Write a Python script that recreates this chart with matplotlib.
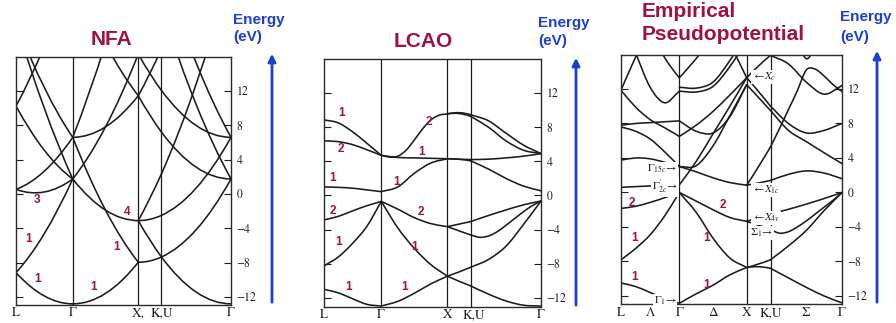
import matplotlib
matplotlib.use("Agg")
import matplotlib.pyplot as plt
from matplotlib.path import Path
from matplotlib.patches import PathPatch, FancyArrowPatch

plt.rcParams["font.family"] = ["Liberation Sans", "DejaVu Sans"]
plt.rcParams["mathtext.fontset"] = "stix"

W, H = 896, 323
INK = "#1c1c1c"
RED = "#a0123e"
BLUE = "#1c3fd2"
SERIF = "STIXGeneral"

# high-symmetry points along L - Γ - X - K,U - Γ  (units of 2π/a)
kpts = [0.0, 0.866, 1.866, 2.220, 3.281]
eticks = [-12, -8, -4, 0, 4, 8, 12]

# ---------------- NFA : E (eV) at start / middle / end of each segment
nfa_LG = [[-9.16, -11.89, -12.8], [-9.16, -4.62, 1.75], [0.54, 0.23, 1.75],
          [0.54, 2.66, 6.6], [10.24, 5.08, 1.75], [10.24, 17.21, 26.0],
          [19.94, 9.93, 1.75], [19.94, 12.36, 6.6]]
nfa_GX = [[-12.8, -11.59, -7.95], [6.6, -1.89, -7.95], [1.75, -1.89, -3.1],
          [1.75, 7.81, 16.3], [6.6, 7.81, 11.45], [6.6, 17.51, 30.85],
          [26.0, 17.51, 11.45]]
nfa_XK = [[-7.95, -7.8, -7.34], [-3.1, -5.37, -7.34], [-3.1, -0.52, 2.36],
          [-3.1, -2.95, -2.49], [11.45, 9.18, 7.21], [11.45, 14.03, 16.9],
          [16.3, 14.03, 12.06]]
nfa_KG = [[-7.34, -11.44, -12.8], [-7.34, -4.16, 1.75], [-2.49, 0.69, 6.6],
          [7.21, 3.11, 1.75], [21.76, 10.39, 1.75], [2.36, 12.81, 26.0],
          [26.6, 15.24, 6.6], [12.06, 7.96, 6.6]]

# ---------------- LCAO : E (eV) at evenly spaced points of each segment
lcao_LG = [[8.85, 8.5, 7.45, 6.1, 4.7], [6.4, 6.3, 5.95, 5.35, 4.7],
           [1.0, 0.95, 0.85, 0.65, 0.45], [-2.85, -2.45, -1.8, -1.2, -0.7],
           [-8.25, -7.2, -5.6, -3.6, -0.7], [-11.0, -11.4, -12.1, -12.75, -12.95]]
lcao_GX = [[4.7, 4.5, 4.6, 5.3, 6.5, 7.8, 8.85, 9.4, 9.55],
           [4.7, 4.45, 4.4, 4.35, 4.3],
           [0.45, 1.0, 2.6, 3.8, 4.3], [-0.7, -1.6, -2.6, -3.3, -3.65],
           [-0.7, -3.8, -6.2, -8.1, -9.45], [-12.95, -12.4, -11.45, -10.35, -9.45]]
lcao_XK = [[9.55, 9.7, 9.45], [9.55, 9.6, 9.25], [4.3, 4.25, 4.2], [4.3, 4.25, 4.05],
           [-3.65, -3.35, -3.05], [-3.65, -4.15, -4.63], [-9.45, -8.95, -8.4],
           [-9.45, -10.05, -10.6]]
lcao_KG = [[9.45, 8.75, 7.3, 5.9, 4.9], [9.25, 8.0, 6.4, 5.3, 4.9],
           [4.2, 4.25, 4.4, 4.6, 4.9], [4.05, 3.1, 2.0, 1.1, 0.55],
           [-3.05, -2.35, -1.7, -1.1, -0.65],
           [-4.63, -4.9, -4.75, -4.25, -3.5, -2.7, -1.9, -1.2, -0.65],
           [-8.4, -7.5, -5.95, -3.4, -0.65], [-10.6, -11.55, -12.35, -12.85, -12.95]]

# ---------------- Empirical pseudopotential : (from, to, E values) per segment
epm_LG = [(0, 1, [-10.5, -10.9, -11.6, -12.3, -12.85]),
          (0, 1, [-7.8, -6.5, -4.9, -2.7, 0.0]),
          (0, 1, [-1.85, -1.6, -1.15, -0.6, 0.0]),
          (0, 1, [0.6, 0.68, 0.76, 0.84, 0.88]),
          (0, 1, [3.75, 4.0, 3.9, 3.5, 3.0]),
          (0, 1, [7.6, 7.1, 6.2, 4.7, 3.0]),
          (0, 1, [7.8, 8.0, 8.1, 8.2, 8.3]),
          (0, 1, [11.85, 9.9, 8.45, 7.5, 6.5]),
          (0, 1, [20.5, 16.2, 12.2, 10.4, 11.75]),
          (0.5, 1, [18.6, 15.6, 13.3]),
          (0, 0.3, [11.85, 14.2, 16.4])]
epm_GX = [(0, 1, [-12.85, -11.75, -10.75, -9.55, -8.7]),
          (0, 1, [0.0, -2.3, -5.3, -7.6, -8.7]),
          (0, 1, [0.0, -1.0, -2.0, -2.9, -3.35]),
          (0, 1, [3.0, 2.4, 1.7, 1.15, 0.85]),
          (0, 1, [0.88, 3.6, 6.8, 10.0, 13.3]),
          (0, 1, [3.0, 3.1, 5.4, 8.9, 12.5]),
          (0, 1, [8.3, 7.1, 6.9, 8.8, 12.5]),
          (0, 1, [6.5, 7.8, 9.4, 11.3, 13.3]),
          (0, 0.3, [13.3, 14.6, 16.0]),
          (0, 1, [12.2, 12.1, 12.8, 15.3, 18.5]),
          (0, 1, [11.75, 11.65, 12.3, 14.6, 17.6]),
          (0.75, 1, [17.2, 15.3, 13.3])]
epm_XK = [(0, 1, [-8.7, -8.6, -8.8]), (0, 1, [-8.7, -8.3, -7.8]),
          (0, 1, [-3.35, -3.8, -4.3]), (0, 1, [-3.35, -2.9, -2.5]),
          (0, 1, [0.85, 1.1, 1.4]), (0, 1, [0.85, 3.0, 5.3]),
          (0, 1, [12.5, 11.0, 9.5]), (0, 1, [13.3, 11.7, 10.0]),
          (0, 1, [13.3, 14.7, 15.9])]
epm_KG = [(0, 1, [-8.8, -9.9, -11.0, -12.0, -12.8]),
          (0, 1, [-7.8, -6.2, -4.4, -2.1, 0.0]),
          (0, 1, [-4.3, -4.72, -4.55, -4.0, -3.3, -2.5, -1.7, -0.9, 0.0]),
          (0, 1, [-2.5, -1.95, -1.35, -0.7, 0.0]),
          (0, 1, [1.4, 2.1, 2.5, 2.25, 1.6]),
          (0, 1, [5.3, 7.4, 9.6, 11.8, 14.2, 14.3, 13.5, 12.5, 11.7]),
          (0, 1, [9.5, 7.2, 5.9, 4.6, 3.35]),
          (0, 1, [10.0, 8.0, 6.9, 7.2, 8.0]),
          (0, 1, [15.9, 14.9, 12.8, 11.4, 12.4]),
          (0.44, 0.58, [16.3, 15.5, 16.3])]

# red band-degeneracy labels (text, axes-fraction position)
nfa_nums = [("3", .099, .423), ("1", .060, .265), ("1", .099, .104),
            ("4", .518, .376), ("1", .468, .233), ("1", .360, .071)]
lcao_nums = [("1", .082, .783), ("2", .077, .637), ("1", .038, .519), ("2", .043, .388),
             ("1", .066, .261), ("1", .115, .079), ("2", .484, .745), ("1", .450, .626),
             ("1", .335, .505), ("2", .446, .383), ("1", .416, .243), ("1", .373, .079)]
epm_nums = [("2", .048, .404), ("1", .060, .264), ("1", .060, .110),
            ("1", .385, .264), ("2", .460, .398), ("1", .385, .076)]

fig = plt.figure(figsize=(W / 100, H / 100), dpi=100)


def draw_band(ax, seg, entry):
    if isinstance(entry, tuple):
        f0, f1, vals = entry
    else:
        f0, f1, vals = 0.0, 1.0, entry
    a, b = kpts[seg], kpts[seg + 1]
    n = len(vals)
    pts = [(a + (b - a) * (f0 + (f1 - f0) * i / (n - 1)), vals[i]) for i in range(n)]
    verts, codes = [pts[0]], [Path.MOVETO]
    if n == 3:
        # one quadratic Bezier through the three read values
        ctrl = (pts[1][0], 2 * vals[1] - (vals[0] + vals[2]) / 2)
        verts += [ctrl, pts[2]]
        codes += [Path.CURVE3, Path.CURVE3]
    else:
        # smooth cubic curve through all read values
        ext = [(2 * pts[0][0] - pts[1][0], 2 * pts[0][1] - pts[1][1])] + pts + \
              [(2 * pts[-1][0] - pts[-2][0], 2 * pts[-1][1] - pts[-2][1])]
        for i in range(1, n):
            p0, p1, p2, p3 = ext[i - 1], ext[i], ext[i + 1], ext[i + 2]
            c1 = (p1[0] + (p2[0] - p0[0]) / 6, p1[1] + (p2[1] - p0[1]) / 6)
            c2 = (p2[0] - (p3[0] - p1[0]) / 6, p2[1] - (p3[1] - p1[1]) / 6)
            verts += [c1, c2, p2]
            codes += [Path.CURVE4] * 3
    ax.add_patch(PathPatch(Path(verts, codes), fill=False, lw=1.15, ec=INK,
                           capstyle="round", zorder=2))


def panel(box, ylim, segs, klabs, klab_y, nums):
    l, t, r, b = box
    ax = fig.add_axes([l / W, 1 - b / H, (r - l) / W, (b - t) / H])
    ax.set_xlim(kpts[0], kpts[-1])
    ax.set_ylim(*ylim)
    for k in kpts[1:-1]:
        ax.axvline(k, color=INK, lw=0.9, zorder=1)
    for seg, entries in enumerate(segs):
        for e in entries:
            draw_band(ax, seg, e)
    ax.set_xticks([])
    ax.yaxis.tick_right()
    ax.set_yticks(eticks)
    ax.set_yticklabels([str(v).replace("-", "\u2212") for v in eticks])
    ax.tick_params(axis="y", left=True, right=True, direction="in", length=5,
                   width=0.8, labelsize=8.5, pad=4, labelfontfamily=SERIF,
                   colors=INK)
    for s in ax.spines.values():
        s.set_linewidth(1.0)
        s.set_color("#2a2a2a")
    tr = ax.get_xaxis_transform()
    for k, txt in klabs:
        ax.text(k, klab_y, txt, transform=tr, ha="center", va="center",
                fontsize=9.5, family=SERIF, color=INK, clip_on=False)
    for txt, x, y in nums:
        ax.text(x, y, txt, transform=ax.transAxes, ha="center", va="center",
                fontsize=8.5, fontweight="bold", color=RED, zorder=5)
    return ax


ax1 = panel((16, 57, 231, 305), (-12.93, 15.96), [nfa_LG, nfa_GX, nfa_XK, nfa_KG],
            [(0, "L"), (0.866, "Γ"), (1.866, "X,"), (2.22, "K,U"), (3.281, "Γ")],
            -0.032, nfa_nums)
ax2 = panel((324, 59, 541, 307), (-13.06, 15.98), [lcao_LG, lcao_GX, lcao_XK, lcao_KG],
            [(0, "L"), (0.866, "Γ"), (1.866, "X"), (2.26, "K,U"), (3.281, "Γ")],
            -0.034, lcao_nums)
ax3 = panel((621, 55, 842, 304), (-12.93, 15.94), [epm_LG, epm_GX, epm_XK, epm_KG],
            [(0, "L"), (0.433, "Λ"), (0.866, "Γ"), (1.366, "Δ"), (1.866, "X"),
             (2.22, "K,U"), (2.75, "Σ"), (3.281, "Γ")],
            -0.036, epm_nums)

# point labels of the pseudopotential panel
wb = dict(fc="white", ec="none", pad=0.4)
pt_labels = [(r"$\Gamma_{15c}\!\rightarrow$", .256, .542, "right"),
             (r"$\Gamma^{\prime}_{2c}\!\rightarrow$", .258, .470, "right"),
             (r"$\Gamma_{1}\!\rightarrow$", .253, .012, "right"),
             (r"$\leftarrow\!X_{c}$", .593, .912, "left"),
             (r"$\leftarrow\!X_{1c}$", .593, .458, "left"),
             (r"$\leftarrow\!X_{4v}$", .593, .345, "left"),
             (r"$\Sigma_{1}\!\rightarrow$", .584, .285, "left")]
for txt, x, y, ha in pt_labels:
    ax3.text(x, y, txt, transform=ax3.transAxes, ha=ha, va="center",
             fontsize=8, color=INK, bbox=wb, zorder=4)

# titles
fig.text(111 / W, 1 - 45 / H, "NFA", ha="center", va="baseline", fontsize=15,
         fontweight="bold", color=RED)
fig.text(423 / W, 1 - 47 / H, "LCAO", ha="center", va="baseline", fontsize=15,
         fontweight="bold", color=RED)
fig.text(642 / W, 1 - 17 / H, "Empirical", ha="left", va="baseline", fontsize=15,
         fontweight="bold", color=RED)
fig.text(642 / W, 1 - 40 / H, "Pseudopotential", ha="left", va="baseline", fontsize=15,
         fontweight="bold", color=RED)

# energy axis captions and arrows
for x0, y1, y2 in [(233, 24, 41), (538, 27, 45), (840, 21, 41)]:
    fig.text(x0 / W, 1 - y1 / H, "Energy", ha="left", va="baseline", fontsize=11,
             fontweight="bold", color=BLUE)
    fig.text(x0 / W, 1 - y2 / H, "(eV)", ha="left", va="baseline", fontsize=11,
             fontweight="bold", color=BLUE)
for xa, yb, yt in [(272, 305, 51), (576, 308, 55), (877, 305, 48)]:
    fig.add_artist(FancyArrowPatch(
        (xa / W, 1 - yb / H), (xa / W, 1 - yt / H), transform=fig.transFigure,
        arrowstyle="-|>", mutation_scale=11, lw=2.0, color=BLUE))

fig.savefig("out.png", dpi=100)
